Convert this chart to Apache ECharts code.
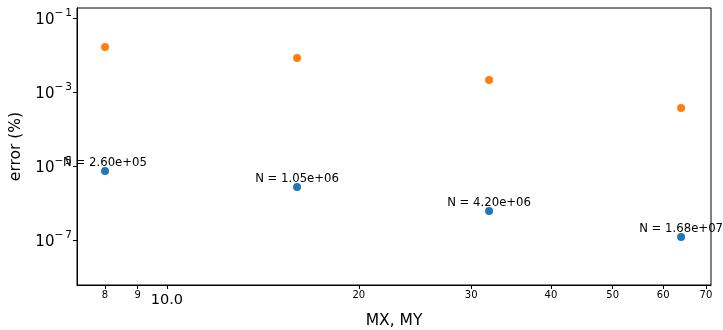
<!DOCTYPE html>
<html>
<head>
<meta charset="utf-8">
<script src="https://cdn.jsdelivr.net/npm/echarts@6/dist/echarts.min.js"></script>
<style>
  html, body { margin: 0; padding: 0; background: #fff; }
  #chart { width: 723px; height: 330px; }
</style>
</head>
<body>
<div id="chart"></div>
<script>
// Grid resolution (MX = MY) and the two error measures at each resolution
const resolutions = [8, 16, 32, 64];
const errorBlue = [7.3e-6, 2.7e-6, 6.1e-7, 1.2e-7];
const errorOrange = [0.0164, 0.0083, 0.0021, 0.00037];
const cellCounts = ['2.60e+05', '1.05e+06', '4.20e+06', '1.68e+07'];

// Tick positions
const xTicks = [8, 9, 10, 20, 30, 40, 50, 60, 70];
const yTicks = [1e-7, 1e-5, 1e-3, 1e-1];

const FONT = 'DejaVu Sans';
const SUP = { '-1': '−\u20091', '-3': '−\u20093', '-5': '−\u20095', '-7': '−\u20097' };

const chart = echarts.init(document.getElementById('chart'), null, { renderer: 'canvas' });

const blueData = resolutions.map((x, i) => ({
  value: [x, errorBlue[i]],
  label: { formatter: 'N = ' + cellCounts[i] }
}));
const orangeData = resolutions.map((x, i) => [x, errorOrange[i]]);

chart.setOption({
  animation: false,
  backgroundColor: '#fff',
  grid: {
    left: 77, right: 12, top: 8, bottom: 45,
    outerBoundsMode: 'none',
    containLabel: false,
    show: true, borderColor: '#000', borderWidth: 1, backgroundColor: 'transparent'
  },
  xAxis: {
    type: 'log',
    logBase: 10,
    min: 7.23,
    max: 71.3,
    name: 'MX, MY',
    nameLocation: 'middle',
    nameGap: 28,
    nameTextStyle: { fontFamily: FONT, fontSize: 15.5, color: '#000' },
    axisLine: { show: true, lineStyle: { color: '#000' } },
    splitLine: { show: false },
    minorTick: { show: false },
    axisTick: { show: true, inside: false, length: 4, lineStyle: { color: '#000' }, customValues: xTicks },
    axisLabel: {
      customValues: xTicks,
      margin: 5,
      color: '#000',
      fontFamily: FONT,
      formatter: v => (Math.abs(v - 10) < 1e-6 ? '{big|10.0}' : '{small|' + Math.round(v) + '}'),
      rich: {
        big: { fontFamily: FONT, fontSize: 14.5, color: '#000', padding: [3, 0, 0, 0] },
        small: { fontFamily: FONT, fontSize: 10, color: '#000' }
      }
    }
  },
  yAxis: {
    type: 'log',
    logBase: 10,
    min: 6.08e-9,
    max: 0.186,
    name: 'error (%)',
    nameLocation: 'middle',
    nameGap: 53,
    nameTextStyle: { fontFamily: FONT, fontSize: 15.5, color: '#000' },
    axisLine: { show: true, lineStyle: { color: '#000' } },
    splitLine: { show: false },
    minorTick: { show: false },
    axisTick: { show: true, inside: false, length: 4, lineStyle: { color: '#000' }, customValues: yTicks },
    axisLabel: {
      customValues: yTicks,
      margin: 5,
      color: '#000',
      formatter: v => {
        const e = Math.round(Math.log10(v));
        return '{base|10}{sup|' + (SUP[String(e)] || String(e)) + '}';
      },
      rich: {
        base: { fontFamily: FONT, fontSize: 15, color: '#000', verticalAlign: 'bottom', lineHeight: 20 },
        sup: { fontFamily: FONT, fontSize: 10.5, color: '#000', verticalAlign: 'top', lineHeight: 20, padding: [0, 0, 9, 0] }
      }
    }
  },
  series: [
    {
      name: 'blue',
      type: 'scatter',
      data: blueData,
      symbol: 'circle',
      symbolSize: 8,
      itemStyle: { color: '#1f77b4', opacity: 1 },
      label: {
        show: true,
        position: 'top',
        distance: -2,
        fontFamily: FONT,
        fontSize: 11.7,
        color: '#000'
      },
      z: 3
    },
    {
      name: 'orange',
      type: 'scatter',
      data: orangeData,
      symbol: 'circle',
      symbolSize: 8,
      itemStyle: { color: '#ff7f0e', opacity: 1 },
      z: 3
    }
  ]
});
</script>
</body>
</html>
